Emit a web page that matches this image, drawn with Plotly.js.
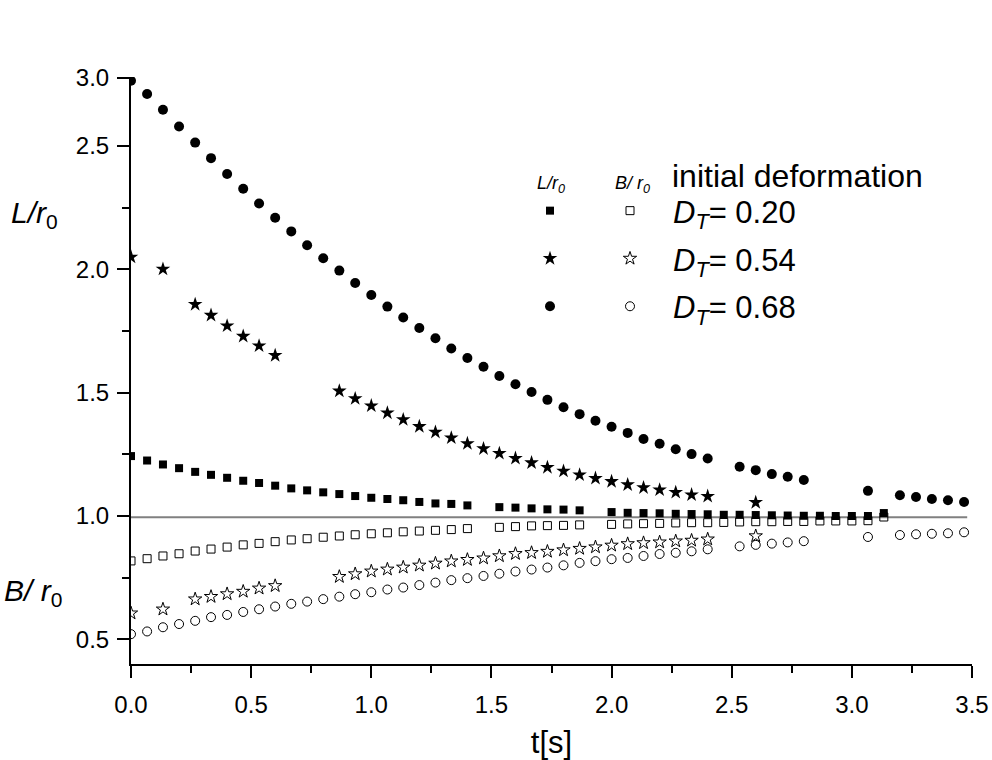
<!DOCTYPE html>
<html><head><meta charset="utf-8">
<script src="https://cdn.plot.ly/plotly-3.0.1.min.js"></script>
<style>html,body{margin:0;padding:0;background:#fff;} #chart{width:992px;height:760px;}</style>
</head><body><div id="chart"></div>
<script>
// ---- data (time in s, ratios) ----
const tSq = [0.000,0.067,0.133,0.200,0.267,0.333,0.400,0.467,0.533,0.600,0.667,0.733,0.800,0.867,0.933,1.000,1.067,1.133,1.200,1.267,1.333,1.400,
             1.533,1.600,1.667,1.733,1.800,1.867,
             2.000,2.067,2.133,2.200,2.267,2.333,2.400,2.467,2.533,2.600,2.667,2.733,2.800,2.867,2.933,3.000,3.067,3.133];
const L_020 = [1.243,1.225,1.209,1.194,1.179,1.167,1.155,1.143,1.134,1.123,1.112,1.104,1.096,1.089,1.081,1.074,1.069,1.064,1.057,1.051,1.049,1.043,
               1.036,1.034,1.031,1.027,1.026,1.023,
               1.016,1.013,1.012,1.011,1.009,1.008,1.007,1.005,1.005,1.004,1.003,1.002,1.001,1.001,1.000,1.000,1.000,1.012];
const B_020 = [0.818,0.827,0.838,0.847,0.858,0.866,0.874,0.883,0.889,0.896,0.903,0.908,0.914,0.919,0.924,0.928,0.932,0.936,0.939,0.942,0.945,0.949,
               0.954,0.957,0.960,0.961,0.962,0.964,
               0.966,0.968,0.969,0.970,0.972,0.973,0.973,0.974,0.976,0.977,0.977,0.978,0.978,0.980,0.980,0.980,0.981,0.996];

const tSt = [0.000,0.133,0.267,0.333,0.400,0.467,0.533,0.600,
             0.867,0.933,1.000,1.067,1.133,1.200,1.267,1.333,1.400,1.467,1.533,1.600,1.667,1.733,1.800,1.867,1.933,2.000,2.067,2.133,2.200,2.267,2.333,2.400,
             2.600];
const L_054 = [2.050,2.001,1.858,1.814,1.771,1.729,1.690,1.651,
               1.507,1.476,1.447,1.418,1.391,1.363,1.340,1.317,1.294,1.273,1.254,1.234,1.216,1.197,1.182,1.167,1.153,1.140,1.127,1.115,1.106,1.096,1.086,1.080,
               1.055];
const B_054 = [0.606,0.622,0.663,0.673,0.684,0.694,0.707,0.717,
               0.754,0.765,0.776,0.784,0.792,0.800,0.808,0.817,0.823,0.829,0.838,0.847,0.851,0.856,0.862,0.868,0.874,0.881,0.887,0.891,0.894,0.898,0.901,0.906,
               0.919];

const tCi = [0.000,0.067,0.133,0.200,0.267,0.333,0.400,0.467,0.533,0.600,0.667,0.733,0.800,0.867,0.933,1.000,1.067,1.133,1.200,1.267,1.333,1.400,1.467,
             1.533,1.600,1.667,1.733,1.800,1.867,1.933,2.000,2.067,2.133,2.200,2.267,2.333,2.400,
             2.533,2.600,2.667,2.733,2.800,
             3.067,
             3.200,3.267,3.333,3.400,3.467];
const L_068 = [2.765,2.711,2.647,2.579,2.514,2.451,2.387,2.327,2.267,2.209,2.154,2.098,2.045,1.995,1.945,1.896,1.849,1.805,1.762,1.721,1.679,1.641,1.605,
               1.568,1.534,1.503,1.471,1.441,1.413,1.386,1.362,1.337,1.312,1.293,1.271,1.251,1.233,
               1.200,1.186,1.170,1.159,1.146,
               1.102,
               1.084,1.077,1.069,1.064,1.057];
const B_068 = [0.521,0.532,0.549,0.562,0.575,0.590,0.599,0.611,0.622,0.633,0.644,0.653,0.663,0.673,0.683,0.691,0.702,0.710,0.720,0.730,0.740,0.748,0.757,
               0.766,0.775,0.783,0.791,0.800,0.810,0.817,0.825,0.830,0.838,0.846,0.851,0.857,0.865,
               0.877,0.883,0.888,0.893,0.898,
               0.915,
               0.923,0.926,0.928,0.930,0.934];

const legendNames = ['<i>D</i><sub><i>T</i></sub>= 0.20','<i>D</i><sub><i>T</i></sub>= 0.54','<i>D</i><sub><i>T</i></sub>= 0.68'];
const refLevel = 0.995;     // grey reference line
const refEnd = 3.48;
const yTickVals = [0.5,1.0,1.5,2.0,2.5,2.777];
const yTickText = ['0.5','1.0','1.5','2.0','2.5','3.0'];
const yMinorVals = [0.75,1.25,1.75,2.25];

// ---- layout helpers (pixel -> paper) ----
const L = 131, R = 972, T = 77, B = 664;
const px = v => (v - L) / (R - L);
const py = v => (B - v) / (B - T);
const FONT = 'Liberation Sans, Arial, sans-serif';

function tr(x, y, sym, size, legendId, name, grp) {
  const open = sym.indexOf('open') >= 0;
  return {
    type: 'scatter', mode: 'markers', x: x, y: y, name: name,
    legend: legendId, legendgroup: grp, hoverinfo: 'skip',
    marker: {symbol: sym, size: size, color: 'black', line: {color: 'black', width: open ? 1 : 0}}
  };
}

const data = [
  tr(tSq, L_020, 'square', 8, 'legend', '\u00a0', 'a1'),
  tr(tSt, L_054, 'star', 11, 'legend', '\u00a0', 'a2'),
  tr(tCi, L_068, 'circle', 10, 'legend', '\u00a0', 'a3'),
  tr(tSq, B_020, 'square-open', 8, 'legend2', legendNames[0], 'b1'),
  tr(tSt, B_054, 'star-open', 10, 'legend2', legendNames[1], 'b2'),
  tr(tCi, B_068, 'circle-open', 9, 'legend2', legendNames[2], 'b3')
];

const legBase = {
  xanchor: 'left', yanchor: 'top', bgcolor: 'rgba(0,0,0,0)', borderwidth: 0,
  font: {family: FONT, size: 31, color: 'black'}, tracegroupgap: 4.5, traceorder: 'grouped',
  itemclick: false, itemdoubleclick: false
};

const layout = {
  width: 992, height: 760,
  margin: {l: L, r: 992 - R, t: T, b: 760 - B},
  paper_bgcolor: 'white', plot_bgcolor: 'white',
  font: {family: FONT, color: 'black'},
  showlegend: true,
  legend: Object.assign({}, legBase, {x: px(530), y: py(184), itemwidth: 30}),
  legend2: Object.assign({}, legBase, {x: px(587), y: py(184), itemwidth: 76}),
  xaxis: {
    range: [0, 3.5], dtick: 0.5, tick0: 0, tickformat: '.1f',
    showline: true, linewidth: 2, linecolor: 'black', mirror: false,
    ticks: 'outside', ticklen: 12, tickwidth: 2, tickcolor: 'black', ticklabelstandoff: 6,
    tickfont: {family: FONT, size: 24, color: 'black'},
    minor: {dtick: 0.25, ticks: 'outside', ticklen: 7, tickwidth: 2, tickcolor: 'black'},
    showgrid: false, zeroline: false,
    title: {text: 't[s]', font: {family: FONT, size: 31, color: 'black'}, standoff: 20}
  },
  yaxis: {
    range: [0.4, 2.78], tickmode: 'array', tickvals: yTickVals, ticktext: yTickText,
    showline: true, linewidth: 2, linecolor: 'black',
    ticks: 'outside', ticklen: 12, tickwidth: 2, tickcolor: 'black', ticklabelstandoff: 3,
    tickfont: {family: FONT, size: 24, color: 'black'},
    minor: {tickmode: 'array', tickvals: yMinorVals, ticks: 'outside', ticklen: 7, tickwidth: 2, tickcolor: 'black'},
    showgrid: false, zeroline: false
  },
  shapes: [{type: 'line', xref: 'x', yref: 'y', x0: 0, x1: refEnd, y0: refLevel, y1: refLevel,
            line: {color: '#808080', width: 2}, layer: 'below'}],
  annotations: [
    {xref: 'paper', yref: 'paper', x: px(60), y: py(215), xanchor: 'right', yanchor: 'middle', showarrow: false,
     text: '<i>L/r</i><sub>0</sub>', font: {family: FONT, size: 30, color: 'black'}},
    {xref: 'paper', yref: 'paper', x: px(64), y: py(592), xanchor: 'right', yanchor: 'middle', showarrow: false,
     text: '<i>B/ r</i><sub>0</sub>', font: {family: FONT, size: 30, color: 'black'}},
    {xref: 'paper', yref: 'paper', x: px(535), y: py(184), xanchor: 'left', yanchor: 'middle', showarrow: false,
     text: '<i>L/r<sub>0</sub></i>', font: {family: FONT, size: 18, color: 'black'}},
    {xref: 'paper', yref: 'paper', x: px(613), y: py(184), xanchor: 'left', yanchor: 'middle', showarrow: false,
     text: '<i>B/ r<sub>0</sub></i>', font: {family: FONT, size: 18, color: 'black'}},
    {xref: 'paper', yref: 'paper', x: px(670), y: py(176), xanchor: 'left', yanchor: 'middle', showarrow: false,
     text: 'initial deformation', font: {family: FONT, size: 32, color: 'black'}}
  ]
};

Plotly.newPlot('chart', data, layout, {displayModeBar: false, staticPlot: true});
</script>
</body></html>
